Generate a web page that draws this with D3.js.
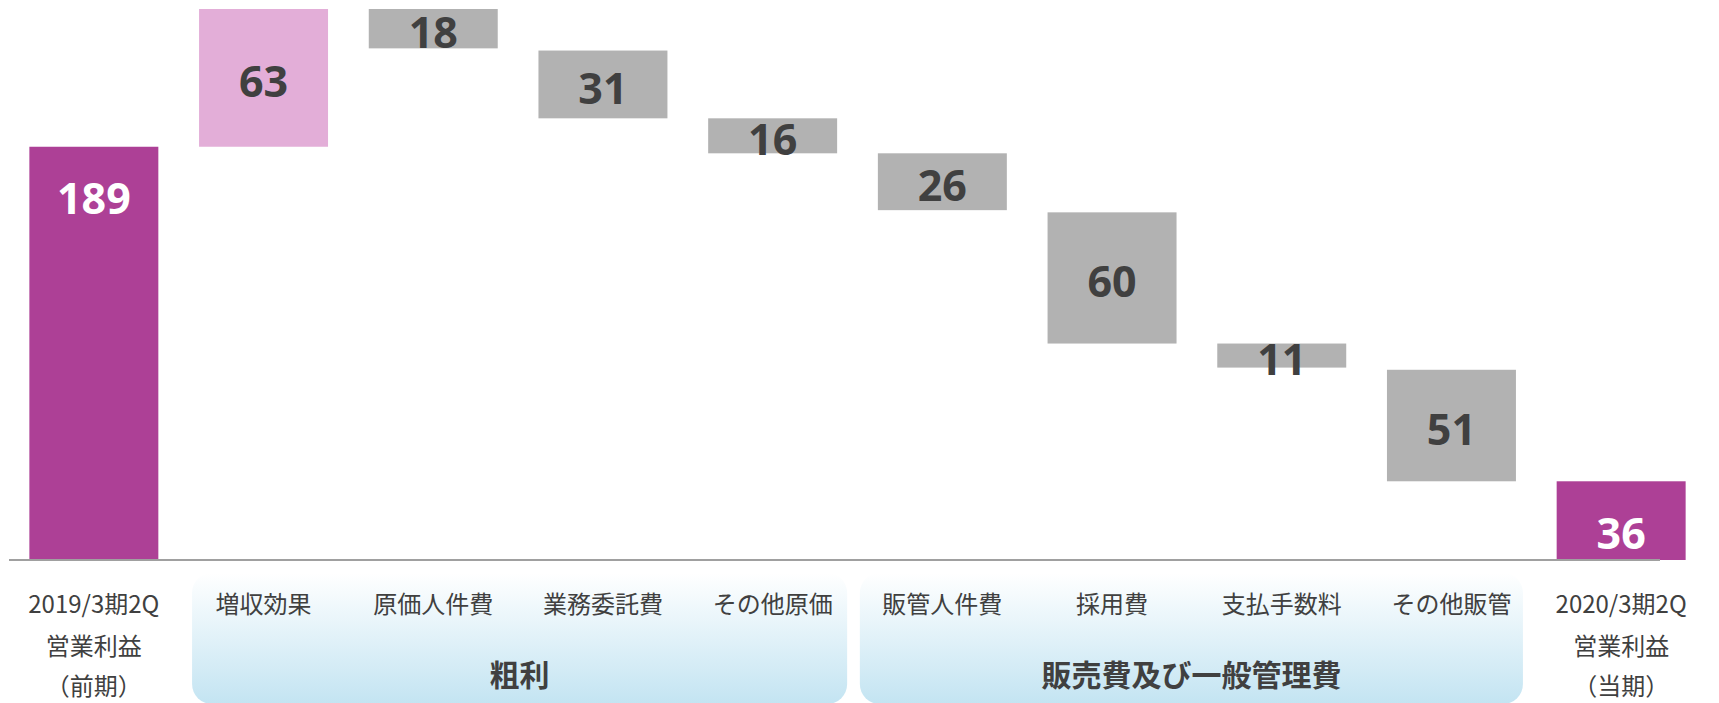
<!DOCTYPE html>
<html>
<head>
<meta charset="utf-8">
<script src="https://cdn.jsdelivr.net/npm/d3@7"></script>
<style>
  html, body { margin: 0; padding: 0; background: #fff; }
  svg { display: block; }
</style>
</head>
<body>
<svg id="chart" width="1719" height="703"></svg>
<script>
// Operating profit bridge, 2019/3 2Q -> 2020/3 2Q
const categories = [
  ["2019/3期2Q", "営業利益", "（前期）"],
  ["増収効果"],
  ["原価人件費"],
  ["業務委託費"],
  ["その他原価"],
  ["販管人件費"],
  ["採用費"],
  ["支払手数料"],
  ["その他販管"],
  ["2020/3期2Q", "営業利益", "（当期）"]
];
// signed change of each step (totals are positive levels)
const values = [189, 63, -18, -31, -16, -26, -60, -11, -51, 36];
// level each bar starts from
const startLevels = [0, 189, 252, 233, 202, 186, 159, 99, 87, 0];
// bar kind: total / increase / decrease
const kinds = ["total", "increase", "decrease", "decrease", "decrease",
               "decrease", "decrease", "decrease", "decrease", "total"];
// category groups shown under the axis
const groups = [
  { name: "粗利", from: 1, to: 4 },
  { name: "販売費及び一般管理費", from: 5, to: 8 }
];

const colors = { total: "#ad4096", increase: "#e3aed8", decrease: "#b2b2b2" };
const textDark = "#404040";

const svg = d3.select("#chart");
const baseY = 560;

const x = d3.scaleBand()
  .domain(d3.range(categories.length))
  .range([9, 1706])
  .paddingInner(0.24)
  .paddingOuter(0.12);

const y = d3.scaleLinear().domain([0, 252]).range([baseY, 9]);

const bars = values.map((v, i) => {
  const a = startLevels[i], b = startLevels[i] + v;
  return { i, v, kind: kinds[i], lo: Math.min(a, b), hi: Math.max(a, b) };
});

// group backgrounds
const defs = svg.append("defs");
const grad = defs.append("linearGradient")
  .attr("id", "groupFill").attr("x1", 0).attr("y1", 0).attr("x2", 0).attr("y2", 1);
grad.append("stop").attr("offset", "0%").attr("stop-color", "#ffffff");
grad.append("stop").attr("offset", "100%").attr("stop-color", "#c3e4f2");

const bw = x.bandwidth();
const groupEdges = [
  [x(groups[0].from) - 7, x(groups[0].to) + bw + 10],
  [x(groups[1].from) - 18, x(groups[1].to) + bw + 7]
];
svg.append("g").selectAll("rect")
  .data(groups)
  .join("rect")
  .attr("x", (d, k) => groupEdges[k][0])
  .attr("width", (d, k) => groupEdges[k][1] - groupEdges[k][0])
  .attr("y", 573)
  .attr("height", 131)
  .attr("rx", 20).attr("ry", 20)
  .attr("fill", "url(#groupFill)");

svg.append("g").selectAll("text")
  .data(groups)
  .join("text")
  .attr("x", (d, k) => (groupEdges[k][0] + groupEdges[k][1]) / 2)
  .attr("y", 673)
  .attr("text-anchor", "middle")
  .attr("dominant-baseline", "central")
  .attr("font-family", "'Noto Sans CJK JP', sans-serif")
  .attr("font-weight", 700)
  .attr("font-size", 30)
  .attr("fill", textDark)
  .text(d => d.name);

// bars
svg.append("g").selectAll("rect")
  .data(bars)
  .join("rect")
  .attr("x", d => x(d.i))
  .attr("width", bw)
  .attr("y", d => y(d.hi))
  .attr("height", d => y(d.lo) - y(d.hi))
  .attr("fill", d => colors[d.kind]);

// value labels
svg.append("g").selectAll("text")
  .data(bars)
  .join("text")
  .attr("x", d => x(d.i) + bw / 2)
  .attr("y", d => d.kind === "total" ? y(d.hi) + 51 : (y(d.hi) + y(d.lo)) / 2 + 3)
  .attr("text-anchor", "middle")
  .attr("dominant-baseline", "central")
  .attr("font-family", "'Noto Sans', sans-serif")
  .attr("font-weight", 700)
  .attr("font-size", 43)
  .attr("fill", d => d.kind === "total" ? "#ffffff" : textDark)
  .text(d => Math.abs(d.v));

// baseline
svg.append("line")
  .attr("x1", 9).attr("x2", 1660)
  .attr("y1", baseY).attr("y2", baseY)
  .attr("stroke", "#a0a0a0").attr("stroke-width", 2);

// category labels
const catG = svg.append("g")
  .attr("font-family", "'Noto Sans CJK JP', sans-serif")
  .attr("font-size", 24)
  .attr("fill", textDark)
  .attr("text-anchor", "middle");
const rowY = [602, 644, 684];
categories.forEach((lines, i) => {
  const t = catG.append("text")
    .attr("x", x(i) + bw / 2)
    .attr("y", rowY[0])
    .attr("dominant-baseline", "central");
  lines.forEach((line, k) => {
    t.append("tspan")
      .attr("x", x(i) + bw / 2)
      .attr("y", rowY[k])
      .text(line);
  });
});
</script>
</body>
</html>
